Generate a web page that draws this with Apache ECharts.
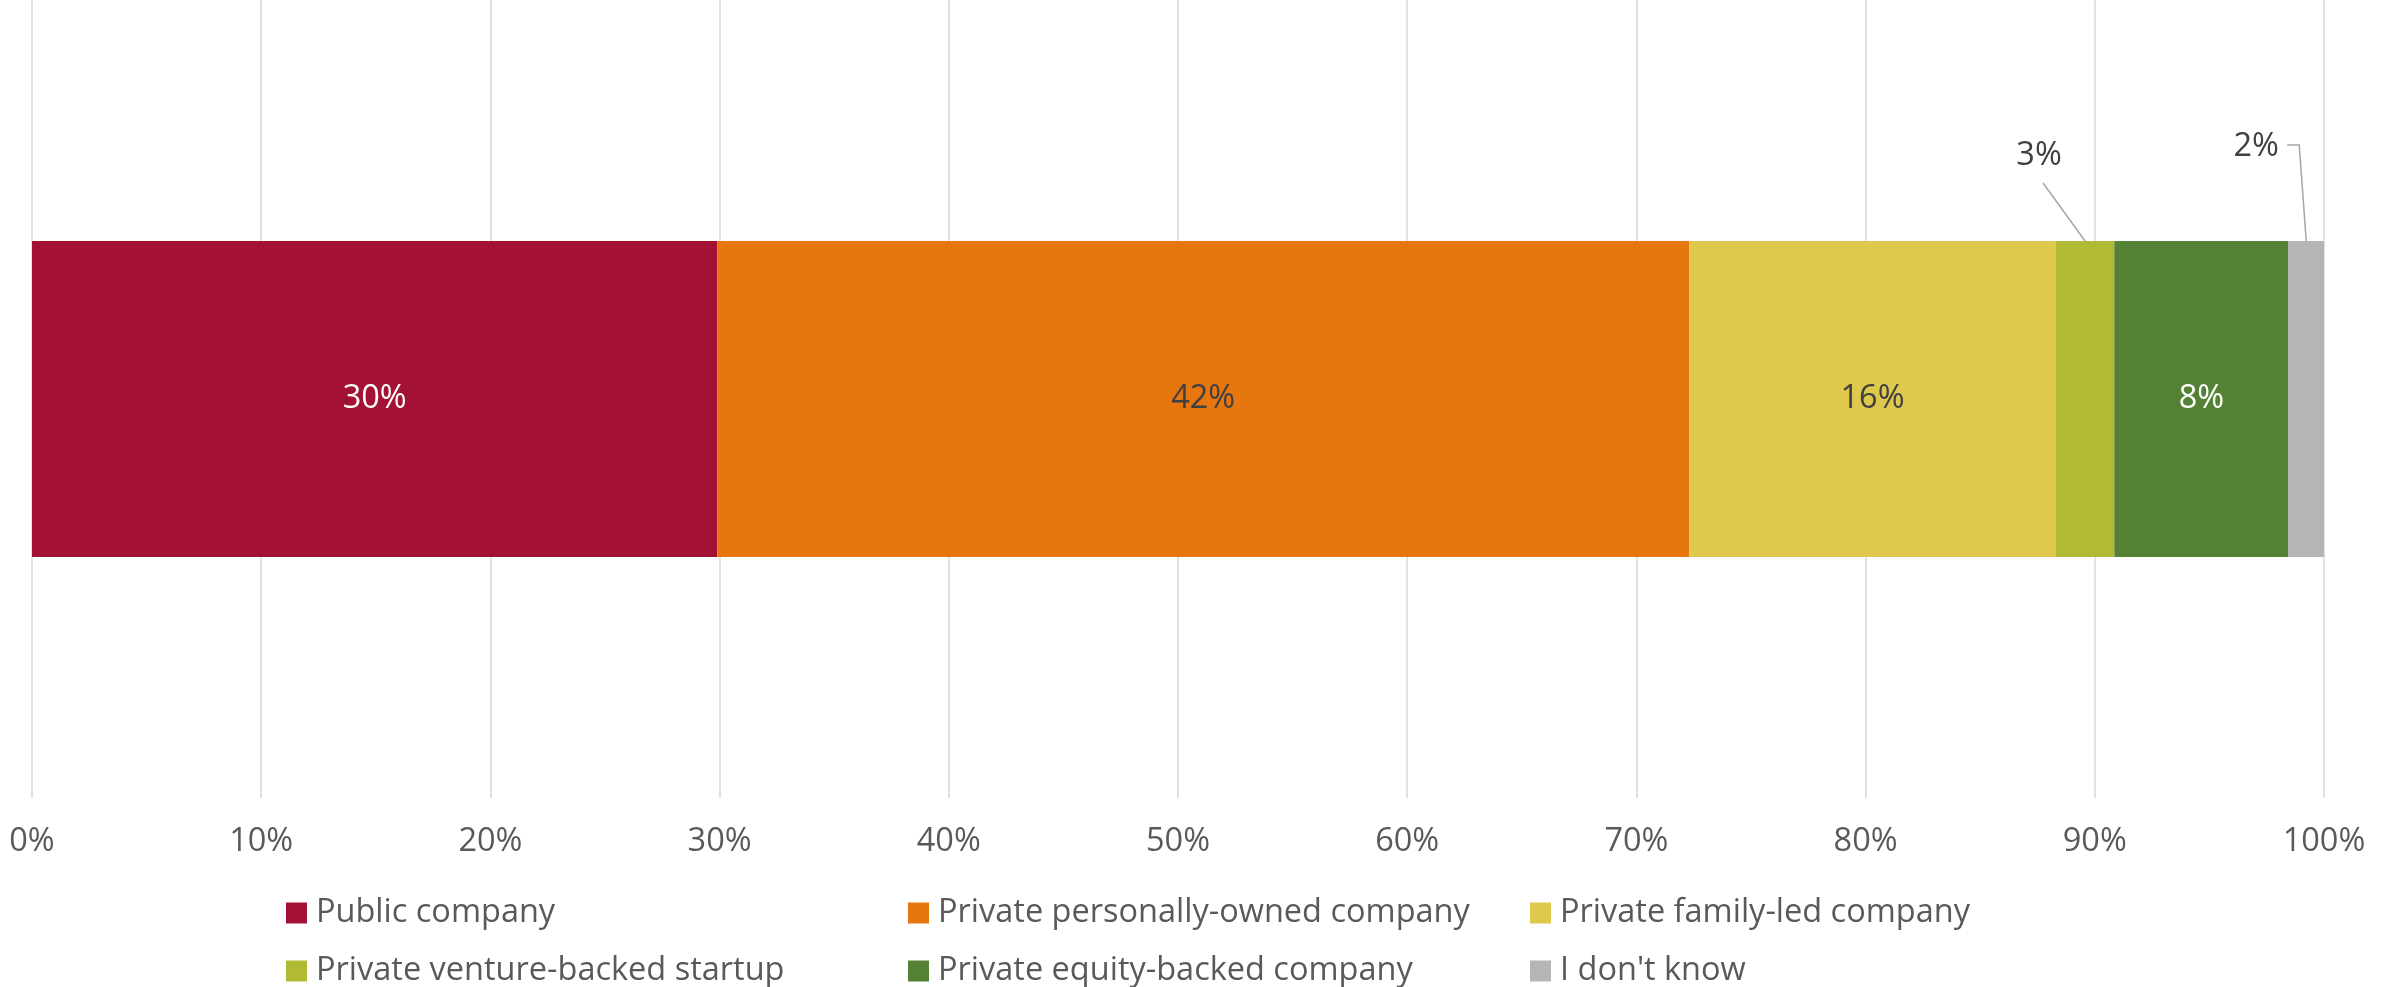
<!DOCTYPE html>
<html>
<head>
<meta charset="utf-8">
<title>Company ownership</title>
<script src="https://cdn.jsdelivr.net/npm/echarts@6/dist/echarts.min.js"></script>
<style>
  html, body { margin: 0; padding: 0; background: #ffffff; }
  #chart { width: 2397px; height: 987px; }
</style>
</head>
<body>
<div id="chart"></div>
<script>
// Share of respondents by company type (percent, one stacked bar)
const categories = [''];
const seriesNames = [
  'Public company',
  'Private personally-owned company',
  'Private family-led company',
  'Private venture-backed startup',
  'Private equity-backed company',
  "I don't know"
];
const publicCompany = [29.9];
const personallyOwned = [42.4];
const familyLed = [16.0];
const ventureBacked = [2.55];
const equityBacked = [7.6];
const dontKnow = [1.55];
const seriesValues = [publicCompany, personallyOwned, familyLed, ventureBacked, equityBacked, dontKnow];
const tickValues = [0, 100, 10]; // min, max, step of the percent axis

const colors = ['#A31134', '#E6760E', '#DEC94C', '#B0BB33', '#558135', '#B5B5B5'];
const labelColors = ['#ffffff', '#404040', '#404040', '#404040', '#ffffff', '#404040'];
const FONT = '"Open Sans", "Noto Sans", sans-serif';
const FONT_SIZE = 32.5;
const BAR_WIDTH = 316;

// Small segments get their label lifted above the bar, joined by a leader line.
// Label offsets and leader polylines are in pixels relative to the segment's top centre.
const callouts = {
  3: { label: [-46, -85], line: [[-42, -58], [0, 0]] },
  5: { label: [-50, -94], line: [[-19, -96], [-7, -96], [0, 0]] }
};

const chart = echarts.init(document.getElementById('chart'), null, { renderer: 'canvas' });

const series = seriesNames.map((name, i) => {
  const s = {
    name: name,
    type: 'bar',
    stack: 'total',
    data: seriesValues[i],
    barWidth: BAR_WIDTH,
    itemStyle: { color: colors[i] },
    label: {
      show: true,
      position: 'inside',
      color: labelColors[i],
      fontFamily: FONT,
      fontSize: FONT_SIZE,
      formatter: p => Math.round(p.value) + '%'
    },
    emphasis: { disabled: true }
  };
  if (callouts[i]) {
    const off = callouts[i].label;
    s.labelLayout = params => ({
      x: params.rect.x + params.rect.width / 2 + off[0],
      y: params.rect.y + off[1],
      align: 'center',
      verticalAlign: 'middle'
    });
  }
  return s;
});

// Leader lines: segment start/end come from the stacked values
const calloutIdx = Object.keys(callouts).map(Number);
const leaderData = calloutIdx.map(i => {
  let start = 0;
  for (let k = 0; k < i; k++) start += seriesValues[k][0];
  return [start, start + seriesValues[i][0], 0, i];
});

series.push({
  type: 'custom',
  name: 'leaders',
  silent: true,
  z: 5,
  encode: { x: [0, 1], y: 2 },
  data: leaderData,
  renderItem: (params, api) => {
    const mid = (api.value(0) + api.value(1)) / 2;
    const c = api.coord([mid, 0]);
    const top = c[1] - BAR_WIDTH / 2;
    const pts = callouts[api.value(3)].line.map(p => [c[0] + p[0], top + p[1]]);
    return {
      type: 'polyline',
      shape: { points: pts },
      style: { stroke: '#A6A6A6', lineWidth: 1.5, fill: null }
    };
  }
});

chart.setOption({
  animation: false,
  backgroundColor: '#ffffff',
  textStyle: { fontFamily: FONT },
  grid: { left: 32, right: 73, top: 0, bottom: 189, containLabel: false },
  xAxis: {
    type: 'value',
    min: tickValues[0],
    max: tickValues[1],
    interval: tickValues[2],
    axisLine: { show: false },
    axisTick: { show: false },
    splitLine: { show: true, lineStyle: { color: '#D9D9D9', width: 1.5 } },
    axisLabel: {
      formatter: '{value}%',
      color: '#595959',
      fontFamily: FONT,
      fontSize: FONT_SIZE,
      margin: 27
    }
  },
  yAxis: {
    type: 'category',
    data: categories,
    axisLine: { show: false },
    axisTick: { show: false },
    axisLabel: { show: false },
    splitLine: { show: false }
  },
  legend: {
    data: seriesNames,
    left: 281,
    top: 882,
    width: 1880,
    orient: 'horizontal',
    icon: 'rect',
    itemWidth: 21,
    itemHeight: 21,
    itemGap: 6,
    selectedMode: false,
    textStyle: {
      color: '#595959',
      fontFamily: FONT,
      fontSize: FONT_SIZE,
      width: 586,
      lineHeight: 52,
      padding: [0, 0, 0, 4]
    }
  },
  series: series
});
</script>
</body>
</html>
